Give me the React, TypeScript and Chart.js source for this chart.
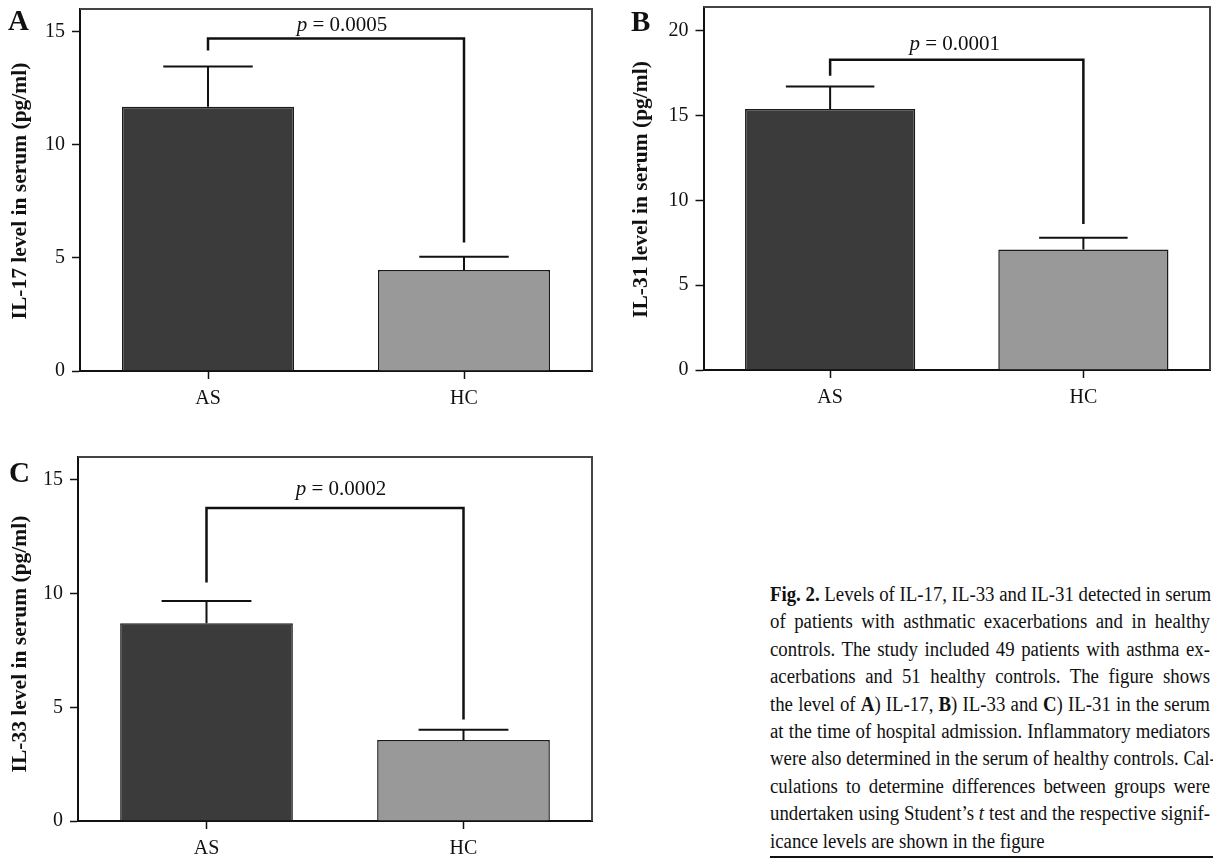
import React, { useEffect, useRef } from 'react';
import { Chart, registerables } from 'chart.js';
Chart.register(...registerables);

const FONT = "'Liberation Serif', 'Times New Roman', serif";
const INK = '#111111';

const categories = ['AS', 'HC'];
const il17Mean = [11.68, 4.46];
const il17Sem = [1.78, 0.59];
const il31Mean = [15.38, 7.1];
const il31Sem = [1.33, 0.69];
const il33Mean = [8.69, 3.56];
const il33Sem = [0.98, 0.45];
// significance bracket: [left leg end, bracket height, right leg end]
const il17Bracket = [14.17, 14.7, 5.68];
const il31Bracket = [17.35, 18.29, 8.61];
const il33Bracket = [10.48, 13.76, 4.46];
const il17P = '0.0005';
const il31P = '0.0001';
const il33P = '0.0002';
const ticksTo15 = [0, 5, 10, 15];
const ticksTo20 = [0, 5, 10, 15, 20];
const barFill = ['#3b3b3b', '#999999'];

const panels = [
  {
    letter: 'A', title: 'IL-17 level in serum (pg/ml)', means: il17Mean, sem: il17Sem,
    bracket: il17Bracket, p: il17P, yMax: 16, ticks: ticksTo15,
    box: { left: 0, top: 0, width: 600, height: 415 }, pad: { top: 9, right: 8 },
    yW: 80, xH: 44, titleX: 20, titleDY: 1, pDX: 6, pDY: 7, letterPos: { left: 8, top: 6 },
  },
  {
    letter: 'B', title: 'IL-31 level in serum (pg/ml)', means: il31Mean, sem: il31Sem,
    bracket: il31Bracket, p: il31P, yMax: 21.4, ticks: ticksTo20,
    box: { left: 610, top: 0, width: 603, height: 415 }, pad: { top: 7, right: 3 },
    yW: 93.5, xH: 45, titleX: 31, titleDY: 1, pDX: -2, pDY: 10, letterPos: { left: 631, top: 7 },
  },
  {
    letter: 'C', title: 'IL-33 level in serum (pg/ml)', means: il33Mean, sem: il33Sem,
    bracket: il33Bracket, p: il33P, yMax: 16, ticks: ticksTo15,
    box: { left: 0, top: 425, width: 600, height: 433 }, pad: { top: 32, right: 8 },
    yW: 78, xH: 37, titleX: 20, titleDY: 5, pDX: 6, pDY: 13, letterPos: { left: 9, top: 458 },
  },
];

const figPlugin = {
  id: 'fig',
  afterDraw(chart: any, _args: any, o: any) {
    const { ctx, chartArea: a, scales } = chart;
    const x = scales.x;
    const y = scales.y;
    const meta = chart.getDatasetMeta(0);
    ctx.save();
    // frame (top / right)
    ctx.strokeStyle = '#444';
    ctx.lineWidth = 2;
    ctx.beginPath();
    ctx.moveTo(a.left, a.top);
    ctx.lineTo(a.right, a.top);
    ctx.lineTo(a.right, a.bottom);
    ctx.stroke();
    // error bars (upper SEM)
    ctx.strokeStyle = INK;
    ctx.lineWidth = 2;
    o.means.forEach((m: number, i: number) => {
      const el = meta.data[i];
      const cx = el.x;
      const half = el.width * 0.26;
      const y0 = y.getPixelForValue(m);
      const y1 = y.getPixelForValue(m + o.sem[i]);
      ctx.beginPath();
      ctx.moveTo(cx, y0);
      ctx.lineTo(cx, y1);
      ctx.moveTo(cx - half, y1);
      ctx.lineTo(cx + half, y1);
      ctx.stroke();
    });
    // significance bracket
    const xl = x.getPixelForValue(0);
    const xr = x.getPixelForValue(1);
    const [bl, bt, br] = o.bracket;
    const yt = y.getPixelForValue(bt);
    ctx.lineWidth = 2.5;
    ctx.lineJoin = 'miter';
    ctx.beginPath();
    ctx.moveTo(xl, y.getPixelForValue(bl));
    ctx.lineTo(xl, yt);
    ctx.lineTo(xr, yt);
    ctx.lineTo(xr, y.getPixelForValue(br));
    ctx.stroke();
    // p label
    ctx.fillStyle = INK;
    ctx.textBaseline = 'alphabetic';
    ctx.textAlign = 'left';
    const fi = `italic 21px ${FONT}`;
    const fr = `21px ${FONT}`;
    ctx.font = fi;
    const w1 = ctx.measureText('p').width;
    const rest = ' = ' + o.p;
    ctx.font = fr;
    const w2 = ctx.measureText(rest).width;
    const cx = (xl + xr) / 2 + o.pDX;
    const sx = cx - (w1 + w2) / 2;
    const by = yt - o.pDY;
    ctx.font = fi;
    ctx.fillText('p', sx, by);
    ctx.font = fr;
    ctx.fillText(rest, sx + w1, by);
    // y axis title
    ctx.translate(o.titleX, (a.top + a.bottom) / 2 + o.titleDY);
    ctx.rotate(-Math.PI / 2);
    ctx.font = `bold 21.5px ${FONT}`;
    ctx.textAlign = 'center';
    ctx.textBaseline = 'middle';
    ctx.fillText(o.title, 0, 0);
    ctx.restore();
  },
};

function Panel({ p }: { p: any }) {
  const ref = useRef<HTMLCanvasElement>(null);
  useEffect(() => {
    const chart = new Chart(ref.current as HTMLCanvasElement, {
      type: 'bar',
      data: {
        labels: categories,
        datasets: [
          {
            data: p.means,
            backgroundColor: barFill,
            borderColor: '#1a1a1a',
            borderWidth: 1.5,
            barPercentage: 0.672,
            categoryPercentage: 1,
          },
        ],
      },
      options: {
        animation: false,
        responsive: true,
        maintainAspectRatio: false,
        layout: { padding: { top: p.pad.top, right: p.pad.right, left: 0, bottom: 0 } },
        plugins: {
          legend: { display: false },
          tooltip: { enabled: false },
          fig: {
            means: p.means, sem: p.sem, bracket: p.bracket, p: p.p,
            title: p.title, titleX: p.titleX, titleDY: p.titleDY, pDX: p.pDX, pDY: p.pDY,
          },
        } as any,
        scales: {
          x: {
            type: 'category',
            offset: true,
            grid: {
              display: true, drawOnChartArea: false, drawTicks: true, tickLength: 8,
              tickWidth: 1.5, tickColor: INK, offset: false,
            },
            border: { display: true, color: INK, width: 2 },
            ticks: { color: INK, font: { family: FONT, size: 20 }, padding: 8 },
            afterFit: (s: any) => { s.height = p.xH; s.paddingLeft = 0; s.paddingRight = 0; },
          },
          y: {
            min: 0,
            max: p.yMax,
            afterBuildTicks: (s: any) => { s.ticks = p.ticks.map((v: number) => ({ value: v })); },
            grid: { drawOnChartArea: false, tickLength: 8, tickWidth: 1.5, tickColor: INK },
            border: { display: true, color: INK, width: 2 },
            ticks: { color: INK, font: { family: FONT, size: 20 }, padding: 7 },
            afterFit: (s: any) => { s.width = p.yW; s.paddingTop = 0; s.paddingBottom = 0; },
          },
        } as any,
      },
      plugins: [figPlugin as any],
    });
    return () => chart.destroy();
  }, []);
  return (
    <div style={{ position: 'absolute', left: p.box.left, top: p.box.top, width: p.box.width, height: p.box.height }}>
      <canvas ref={ref} />
    </div>
  );
}

const SQ = 0.94;
const lineStyle: React.CSSProperties = {
  height: 27.4,
  lineHeight: '27.4px',
  whiteSpace: 'nowrap',
  textAlign: 'justify',
  textAlignLast: 'justify' as any,
};

export default function App() {
  return (
    <div style={{ position: 'absolute', left: 0, top: 0, width: 1213, height: 858, background: '#fff', overflow: 'hidden', color: INK, fontFamily: FONT }}>
      {panels.map((p) => (
        <Panel key={p.letter} p={p} />
      ))}
      {panels.map((p) => (
        <div key={'l' + p.letter} style={{ position: 'absolute', left: p.letterPos.left, top: p.letterPos.top, fontSize: 29, lineHeight: '29px', fontWeight: 'bold' }}>
          {p.letter}
        </div>
      ))}
      <div style={{ position: 'absolute', left: 770, top: 581, width: 440 / SQ, fontSize: 20, transform: `scaleX(${SQ})`, transformOrigin: '0 0' }}>
        <div style={lineStyle}><b>Fig. 2.</b> Levels of IL-17, IL-33 and IL-31 detected in serum</div>
        <div style={lineStyle}>of patients with asthmatic exacerbations and in healthy</div>
        <div style={lineStyle}>controls. The study included 49 patients with asthma ex-</div>
        <div style={lineStyle}>acerbations and 51 healthy controls. The figure shows</div>
        <div style={lineStyle}>the level of <b>A</b>) IL-17, <b>B</b>) IL-33 and <b>C</b>) IL-31 in the serum</div>
        <div style={lineStyle}>at the time of hospital admission. Inflammatory mediators</div>
        <div style={lineStyle}>were also determined in the serum of healthy controls. Cal-</div>
        <div style={lineStyle}>culations to determine differences between groups were</div>
        <div style={lineStyle}>undertaken using Student’s <i>t</i> test and the respective signif-</div>
        <div style={{ ...lineStyle, textAlign: 'left', textAlignLast: 'left' as any }}>icance levels are shown in the figure</div>
      </div>
      <div style={{ position: 'absolute', left: 770, top: 856, width: 443, height: 2, background: INK }} />
    </div>
  );
}
